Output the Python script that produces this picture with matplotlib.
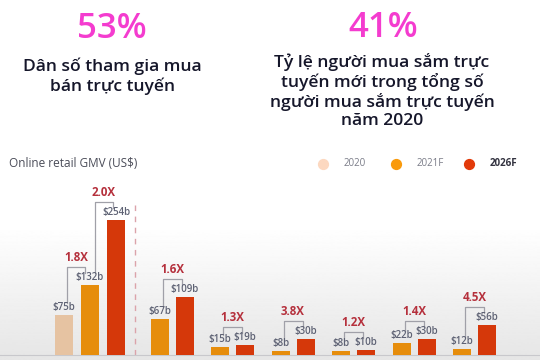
import numpy as np
import matplotlib.pyplot as plt

# ---------------------------------------------------------------
# data
# ---------------------------------------------------------------
series = ["2020", "2021F", "2026F"]
series_colors = ["#e6c3a2", "#e68d0c", "#d5380a"]
legend_colors = ["#fcd8c0", "#f99a0c", "#e23a0a"]

# first group has all three years, the rest only 2021F / 2026F
first_vals = [75, 132, 254]
first_mult = ["1.8X", "2.0X"]

pair_2021 = [67, 15, 8, 8, 22, 12]
pair_2026 = [109, 19, 30, 10, 30, 56]
pair_mult = ["1.6X", "1.3X", "3.8X", "1.2X", "1.4X", "4.5X"]

headline_left = "53%"
caption_left = "Dân số tham gia mua\nbán trực tuyến"
headline_right = "41%"
caption_right = ("Tỷ lệ người mua sắm trực\ntuyến mới trong tổng số\n"
                 "người mua sắm trực tuyến\nnăm 2020")
chart_title = "Online retail GMV (US$)"

# ---------------------------------------------------------------
# style
# ---------------------------------------------------------------
plt.rcParams['font.family'] = ['Open Sans', 'DejaVu Sans']
MAGENTA = "#f43ccf"
DARK = "#15162a"
MULT_RED = "#b5303c"
LABEL_GREY = "#5e6274"
BRACKET_GREY = "#a0a0a8"

PPB = 0.53          # pixels per billion
BASE = 355          # baseline, pixels from top
BAR_W = 18

fig = plt.figure(figsize=(5.4, 3.6), dpi=100)
ax = fig.add_axes([0, 0, 1, 1])
ax.set_xlim(0, 540)
ax.set_ylim(-(360 - BASE) / PPB, BASE / PPB)
ax.axis("off")


def px(y_px):
    """pixel offset -> data units"""
    return y_px / PPB


# soft grey gradient behind the lower part of the chart
grad = np.linspace(0, 1, 200).reshape(-1, 1)
ax.imshow(1 - 0.1 * grad, cmap="gray", vmin=0, vmax=1, aspect="auto",
          extent=(0, 540, px(-5), px(355 - 225)), zorder=0)

# headers
fig.text(112 / 540, 1 - 29 / 360, headline_left, color=MAGENTA,
         fontsize=25, fontweight="semibold", ha="center", va="center")
fig.text(112 / 540, 1 - 76 / 360, caption_left, color=DARK, fontsize=12.6,
         fontweight="semibold", ha="center", va="center", linespacing=1.15)
fig.text(383 / 540, 1 - 28 / 360, headline_right, color=MAGENTA,
         fontsize=25, fontweight="semibold", ha="center", va="center")
fig.text(382 / 540, 1 - 91 / 360, caption_right, color=DARK, fontsize=12.6,
         fontweight="semibold", ha="center", va="center", linespacing=1.13)

fig.text(9 / 540, 1 - 164 / 360, chart_title, color="#4a4c58", fontsize=8.5,
         ha="left", va="center")

# legend
for i, (name, col) in enumerate(zip(series, legend_colors)):
    cx = 323 + i * 73
    ax.scatter([cx], [px(BASE - 164)], s=50, color=col, zorder=3)
    ax.text(cx + 21, px(BASE - 164), name, fontsize=7,
            color="#333340" if i == 2 else "#7a7c88",
            fontweight="bold" if i == 2 else "normal",
            ha="left", va="center")


def value_label(x, v):
    ax.text(x, v + px(2), f"${v}b", fontsize=7, color=LABEL_GREY,
            fontweight="semibold", ha="center", va="bottom", zorder=4)


def bracket(x1, v1, x2, v2, label):
    top = max(v1, v2) + px(18)
    ax.plot([x1 + 3, x1 + 3, x2 - 3, x2 - 3],
            [v1 + px(12), top, top, v2 + px(12)],
            color=BRACKET_GREY, lw=0.9, zorder=3)
    ax.text((x1 + x2) / 2, top + px(3), label, fontsize=8.3,
            color=MULT_RED, fontweight="bold", ha="center", va="bottom")


# first group: three bars
g1_x = 90 + np.array([-26, 0, 26])
ax.bar(g1_x, first_vals, width=BAR_W, color=series_colors, zorder=2)
for x, v in zip(g1_x, first_vals):
    value_label(x, v)
bracket(g1_x[0], first_vals[0], g1_x[1] - 2, first_vals[1], first_mult[0])
bracket(g1_x[1] + 2, first_vals[1], g1_x[2], first_vals[2], first_mult[1])

# dashed separator
ax.plot([135, 135], [0, px(BASE - 202)], color="#dba3aa", lw=1,
        ls=(0, (4, 4)), zorder=1)

# remaining groups
centers = 172 + 60.5 * np.arange(len(pair_2021))
x21 = centers - 12.5
x26 = centers + 12.5
ax.bar(x21, pair_2021, width=BAR_W, color=series_colors[1], zorder=2)
ax.bar(x26, pair_2026, width=BAR_W, color=series_colors[2], zorder=2)
for i in range(len(pair_2021)):
    value_label(x21[i], pair_2021[i])
    value_label(x26[i], pair_2026[i])
    bracket(x21[i], pair_2021[i], x26[i], pair_2026[i], pair_mult[i])

# baseline
ax.axhline(0, color="#c8c8cc", lw=0.8, zorder=1)

fig.savefig("out.png", dpi=100)
